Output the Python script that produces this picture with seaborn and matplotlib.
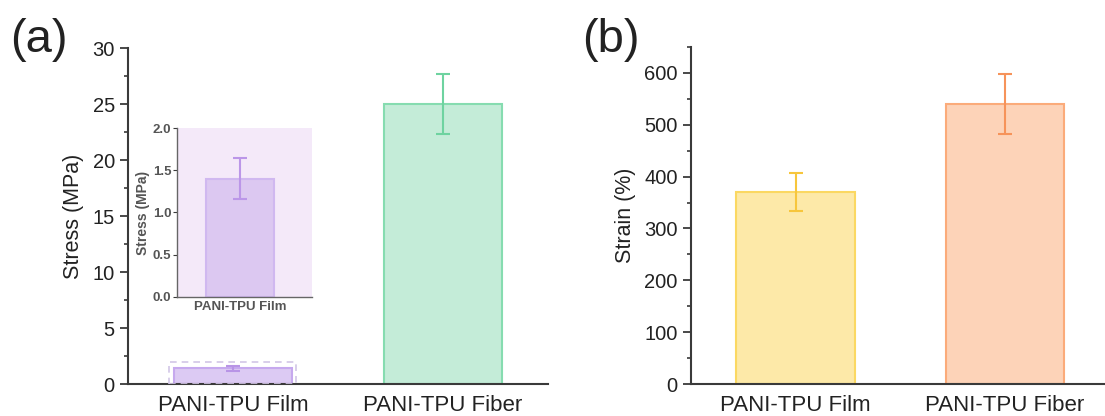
import matplotlib
matplotlib.use("Agg")
import matplotlib.pyplot as plt
import seaborn as sns
import pandas as pd
import numpy as np
from matplotlib.patches import Rectangle
from matplotlib.ticker import MultipleLocator

# ---- data ----
categories = ["PANI-TPU Film", "PANI-TPU Fiber"]
stress_mean = [1.4, 25.0]
stress_err = [0.24, 2.7]
strain_mean = [370, 540]
strain_err = [37, 58]

inset_category = ["PANI-TPU Film"]
inset_stress = [1.4]
inset_err = [0.24]

# ---- styles ----
stress_fill = ["#dccaf3", "#c4ecd8"]
stress_edge = ["#c6a9ee", "#86dcb0"]
stress_ebar = ["#b894e6", "#6ed3a0"]
strain_fill = ["#fde9a8", "#fdd3b8"]
strain_edge = ["#fbd862", "#fbab7a"]
strain_ebar = ["#f7c63c", "#f6935a"]

sns.set_theme(style="ticks")
plt.rcParams["font.family"] = ["Liberation Sans", "DejaVu Sans"]
plt.rcParams["axes.edgecolor"] = "#3a3a3a"
plt.rcParams["xtick.color"] = "#3a3a3a"
plt.rcParams["ytick.color"] = "#3a3a3a"

fig = plt.figure(figsize=(11.05, 4.16), dpi=100)
axA = fig.add_axes([0.1158, 0.0769, 0.3801, 0.8077])
axB = fig.add_axes([0.6253, 0.0769, 0.3747, 0.8101])
axI = fig.add_axes([0.1602, 0.2861, 0.1222, 0.4062])

BW = 0.565


def style_bars(ax, fills, edges):
    for p, fc, ec in zip(ax.patches, fills, edges):
        p.set_facecolor(fc)
        p.set_edgecolor(ec)
        p.set_linewidth(1.5)


def draw(ax, cats, means, errs, fills, edges, ebars, width):
    df = pd.DataFrame({"cat": cats, "val": means})
    sns.barplot(data=df, x="cat", y="val", hue="cat", palette=fills,
                width=width, errorbar=None, legend=False, ax=ax)
    style_bars(ax, fills, edges)
    for i, (m, e, c) in enumerate(zip(means, errs, ebars)):
        ax.errorbar(i, m, yerr=e, color=c, capsize=5, capthick=1.5,
                    elinewidth=1.5, fmt="none", zorder=5)


# Panel (a)
draw(axA, categories, stress_mean, stress_err, stress_fill, stress_edge, stress_ebar, BW)
axA.set_ylim(0, 30)
axA.set_xlim(-0.5, 1.5)
axA.yaxis.set_major_locator(MultipleLocator(5))
axA.yaxis.set_minor_locator(MultipleLocator(2.5))
axA.set_ylabel("Stress (MPa)", fontsize=15.5, color="#222222", labelpad=6)
axA.set_xlabel("")
# zoom indicator rectangle around the film bar (0 .. inset max)
axA.add_patch(Rectangle((-BW / 2 - 0.02, 0), BW + 0.04, 2.0, fill=False,
                        edgecolor="#d2c6e6", linestyle=(0, (4, 3)), linewidth=1.2, zorder=6))

# Panel (b)
draw(axB, categories, strain_mean, strain_err, strain_fill, strain_edge, strain_ebar, BW)
axB.set_ylim(0, 650)
axB.set_xlim(-0.5, 1.48)
axB.yaxis.set_major_locator(MultipleLocator(100))
axB.yaxis.set_minor_locator(MultipleLocator(50))
axB.set_ylabel("Strain (%)", fontsize=15.5, color="#222222", labelpad=6)
axB.set_xlabel("")

for ax in (axA, axB):
    sns.despine(ax=ax)
    ax.spines["left"].set_linewidth(1.5)
    ax.spines["bottom"].set_linewidth(1.5)
    ax.tick_params(axis="y", which="major", length=6, width=1.3, labelsize=14.5, labelcolor="#222222")
    ax.tick_params(axis="y", which="minor", length=3, width=1.2)
    ax.tick_params(axis="x", length=0, labelsize=16, labelcolor="#222222", pad=8)

# Inset
draw(axI, inset_category, inset_stress, inset_err, ["#dcc8f1"], ["#d0b8f0"], ["#bb96e8"], 0.5)
axI.set_facecolor("#f4e9f9")
axI.set_ylim(0, 2.0)
axI.set_xlim(-0.46, 0.53)
axI.yaxis.set_major_locator(MultipleLocator(0.5))
axI.set_ylabel("Stress (MPa)", fontsize=10, color="#555555", fontweight="bold", labelpad=2)
axI.set_xlabel("")
sns.despine(ax=axI)
axI.spines["left"].set_linewidth(1.0)
axI.spines["bottom"].set_linewidth(1.0)
axI.spines["left"].set_color("#666666")
axI.spines["bottom"].set_color("#666666")
axI.tick_params(axis="y", length=3, width=0.8, labelsize=9.5, labelcolor="#555555", pad=1)
axI.tick_params(axis="x", length=0, labelsize=9.5, labelcolor="#555555", pad=3)
for t in axI.get_xticklabels() + axI.get_yticklabels():
    t.set_fontweight("bold")

fig.text(0.009, 0.905, "(a)", fontsize=34, color="#222222", va="center", ha="left")
fig.text(0.527, 0.905, "(b)", fontsize=34, color="#222222", va="center", ha="left")

fig.savefig("out.png", dpi=100)
